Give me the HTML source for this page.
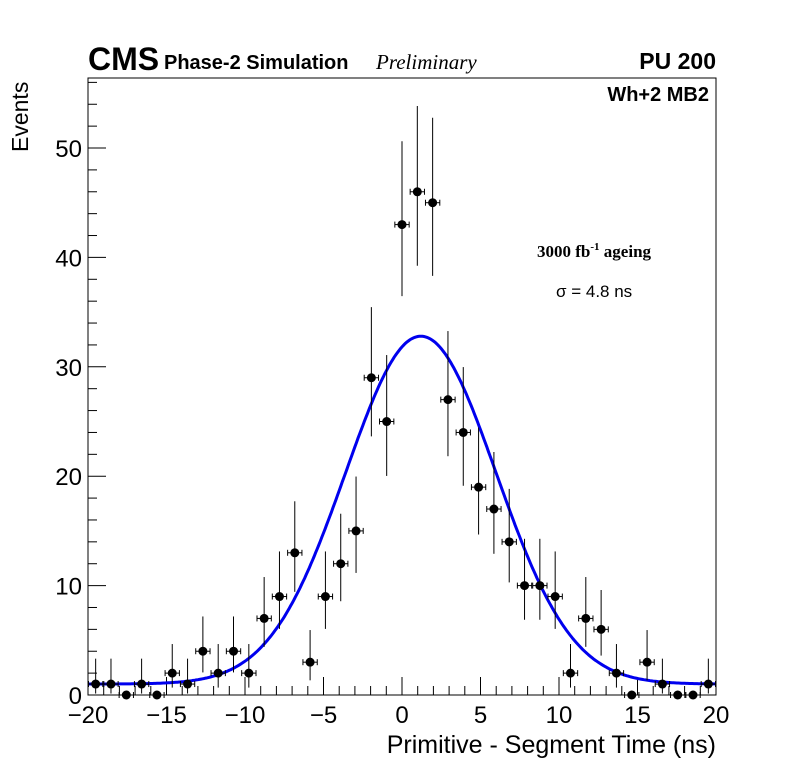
<!DOCTYPE html>
<html><head><meta charset="utf-8"><style>
body{margin:0;background:#fff;}
svg{display:block;font-family:"Liberation Sans",sans-serif;}
</style></head><body>
<svg id="c" width="796" height="772">
<rect x="0" y="0" width="796" height="772" fill="#fff"/>
<g id="axes"></g><g id="marks"></g>
<rect x="88" y="78" width="628" height="617" fill="none" stroke="#000" stroke-width="1"/>
<text x="88" y="70" font-size="32" font-weight="bold">CMS</text>
<text x="164" y="69" font-size="20" font-weight="bold">Phase-2 Simulation</text>
<text x="376" y="69" font-size="21" font-style="italic" font-family="Liberation Serif,serif">Preliminary</text>
<text x="716" y="69" font-size="23" font-weight="bold" text-anchor="end">PU 200</text>
<text x="709" y="101" font-size="20" font-weight="bold" text-anchor="end">Wh+2 MB2</text>
<text x="537" y="257" font-size="17" font-weight="bold" font-family="Liberation Serif,serif">3000 fb<tspan dy="-7" font-size="11">-1</tspan><tspan dy="7"> ageing</tspan></text>
<text x="556" y="297" font-size="17">σ = 4.8 ns</text>
<text x="716" y="753" font-size="25" text-anchor="end">Primitive - Segment Time (ns)</text>
<text transform="translate(28,152) rotate(-90)" font-size="23">Events</text>
</svg>
<script>
const counts=[1,1,0,1,0,2,1,4,2,4,2,7,9,13,3,9,12,15,29,25,43,46,45,27,24,19,17,14,10,10,9,2,7,6,2,0,3,1,0,0,1];
const xTicks=[-20,-15,-10,-5,0,5,10,15,20];
const yTicks=[0,10,20,30,40,50];
const fitConst=[31.8];
const fitMean=[1.2];
const fitSigma=[4.8];
const fitBase=[1.0];
const xMin=-20,xMax=20,yMin=0,yMax=56.4;
const L=88,R=716,T=78,B=695;
const X=v=>L+(v-xMin)/(xMax-xMin)*(R-L);
const Y=v=>B-(v-yMin)/(yMax-yMin)*(B-T);
const NS="http://www.w3.org/2000/svg";
function mk(tag,attrs,parent){const e=document.createElementNS(NS,tag);for(const k in attrs)e.setAttribute(k,attrs[k]);parent.appendChild(e);return e;}
const ax=document.getElementById('axes'),mg=document.getElementById('marks');
for(let v=-20;v<=20;v++){const major=v%5===0;const len=major?18:9;
 const t=mk('line',{x1:X(v),x2:X(v),y1:B,y2:B-len,stroke:'#000','stroke-width':1},ax);
 
 }
xTicks.forEach(v=>{const t=mk('text',{x:X(v),y:723,'font-size':24,'text-anchor':'middle'},ax);t.textContent=(v<0?'\u2212'+(-v):v);
 
 });
for(let v=0;v<=yMax;v+=2){const major=v%10===0;const len=major?18:9;
 const t=mk('line',{x1:L,x2:L+len,y1:Y(v),y2:Y(v),stroke:'#000','stroke-width':1},ax);
 
 }
yTicks.forEach(v=>{const t=mk('text',{x:82,y:Y(v)+9,'font-size':24,'text-anchor':'end'},ax);t.textContent=v;
 
 });
let d='';for(let i=0;i<=400;i++){const x=xMin+(xMax-xMin)*i/400;const y=fitBase[0]+fitConst[0]*Math.exp(-0.5*Math.pow((x-fitMean[0])/fitSigma[0],2));d+=(i?'L':'M')+X(x).toFixed(1)+','+Y(y).toFixed(1);}
const fc=mk('path',{d:d,fill:'none',stroke:'#0000ee','stroke-width':3},mg);


const w=(xMax-xMin)/counts.length;
counts.forEach((c,i)=>{const xc=xMin+(i+0.5)*w;const px=X(xc),py=Y(c);
 const g=mk('g',{},mg);
 
 
 if(c>0){const up=c+Math.sqrt(c+0.75)+1, lo=Math.max(0,c-Math.sqrt(c-0.25));
  mk('line',{x1:px,x2:px,y1:Y(up),y2:Y(lo),stroke:'#000','stroke-width':1},g);}
 const xl=X(xc-w/2)+0.5, xr=X(xc+w/2)-0.5;
 mk('line',{x1:xl,x2:xr,y1:py,y2:py,stroke:'#000','stroke-width':1},g);
 mk('line',{x1:xl,x2:xl,y1:py-3,y2:py+3,stroke:'#000','stroke-width':1},g);
 mk('line',{x1:xr,x2:xr,y1:py-3,y2:py+3,stroke:'#000','stroke-width':1},g);
 mk('circle',{cx:px,cy:py,r:4.5,fill:'#000'},g);
});
</script>
</body></html>
